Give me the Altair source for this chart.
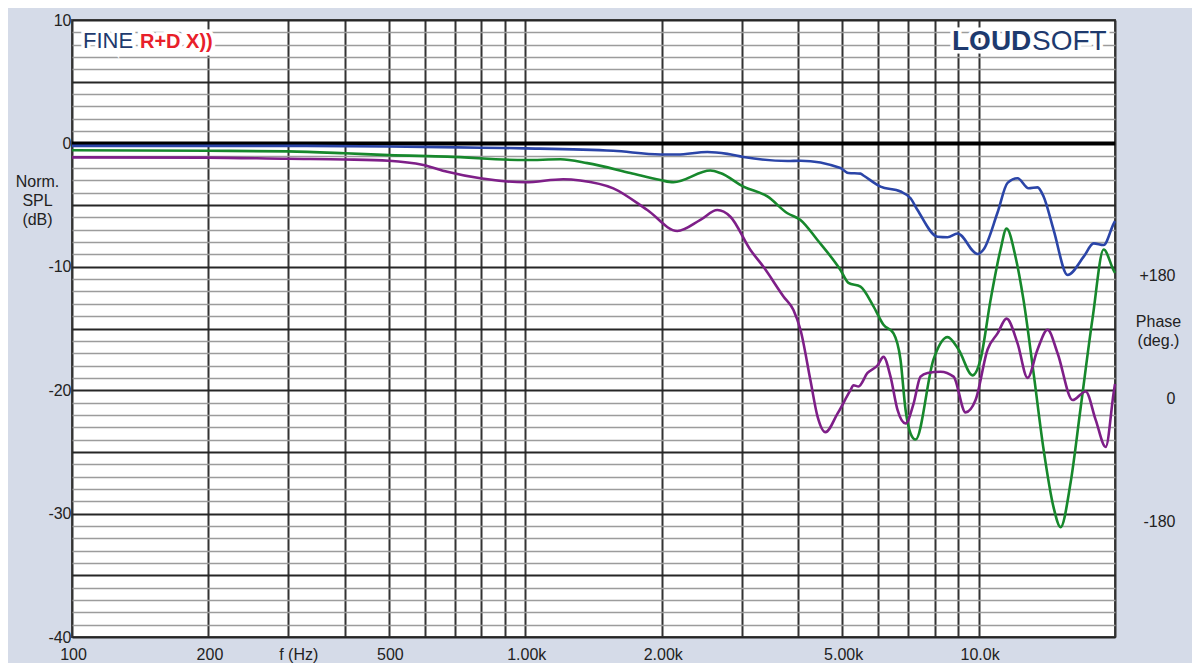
import altair as alt
import pandas as pd

# ---------------- data ----------------
freq_blue = [100, 200, 300, 500, 800, 1000, 1564, 1986, 2165, 2522, 2792, 3029, 3788, 4047,
             4959, 5164, 5489, 5573, 6076, 6728, 7079, 7335, 8119, 8543, 8988, 9950, 10256,
             11013, 11588, 12191, 12893, 13495, 13914, 14640, 15720, 17058, 17947, 18880, 19865, 20000]
spl_blue = [-0.2, -0.2, -0.2, -0.25, -0.35, -0.4, -0.6, -0.9, -0.9, -0.7, -0.85, -1.1, -1.43, -1.4,
            -2.0, -2.4, -2.45, -2.6, -3.5, -3.9, -4.45, -5.4, -7.56, -7.6, -7.3, -8.96, -8.6,
            -5.6, -3.2, -2.83, -3.64, -3.56, -4.3, -7.0, -10.66, -9.18, -8.1, -8.23, -6.5, -6.3]

freq_green = [100, 200, 300, 400, 500, 673, 1000, 1195, 1371, 1705, 1986, 2122, 2561, 2694,
              3029, 3421, 3788, 4047, 4411, 4959, 5164, 5489, 5864, 6170, 6493, 6728, 6902,
              7079, 7261, 7955, 8543, 9034, 9700, 10102, 10628, 11183, 11529, 12068, 12568,
              13223, 13914, 14640, 15170, 15960, 16800, 17857, 18880, 19865, 20000]
spl_green = [-0.55, -0.6, -0.65, -0.8, -0.95, -1.07, -1.35, -1.29, -1.6, -2.4, -2.97, -3.15, -2.2, -2.4,
             -3.5, -4.3, -5.66, -6.2, -7.83, -10.26, -11.3, -11.6, -13.2, -14.7, -15.4, -17.55, -21.6,
             -23.5, -24.0, -17.5, -15.7, -16.7, -18.8, -17.5, -12.7, -8.6, -6.9, -9.2, -12.7,
             -18.6, -24.8, -29.5, -31.1, -27.5, -21.4, -14.1, -8.6, -10.3, -10.5]

freq_purple = [100, 200, 300, 400, 500, 596, 673, 796, 1000, 1213, 1322, 1564, 1859, 2165, 2434,
               2653, 2835, 3139, 3353, 3712, 3905, 4047, 4257, 4411, 4595, 4884, 5217, 5298, 5434,
               5689, 5984, 6170, 6394, 6626, 6902, 7187, 7447, 7717, 8245, 8808, 9361, 9849,
               10469, 11013, 11529, 12191, 12828, 13495, 14200, 14940, 16125, 17232, 18130,
               19077, 19865, 20000]
spl_purple = [-1.13, -1.15, -1.25, -1.3, -1.4, -1.75, -2.3, -2.83, -3.15, -2.9, -3.0, -3.64, -5.4, -7.1, -6.2,
              -5.4, -5.94, -8.64, -10.0, -12.4, -13.5, -15.1, -19.2, -22.1, -23.4, -21.9, -20.0, -19.6, -19.7,
              -18.6, -18.0, -17.3, -18.9, -21.6, -22.7, -21.1, -18.9, -18.6, -18.5, -18.9, -21.8, -20.8,
              -16.7, -15.4, -14.2, -16.2, -19.0, -16.7, -15.1, -17.0, -20.8, -20.1, -22.4,
              -24.6, -20.2, -19.5]

series_names = ["blue", "green", "purple"]
series_colors = ["#2b45a8", "#17882c", "#7e1f88"]

x_ticks = [100, 200, 300, 400, 500, 600, 700, 800, 900,
           1000, 2000, 3000, 4000, 5000, 6000, 7000, 8000, 9000, 10000, 20000]
x_tick_labels = {100: "100", 200: "200", 300: "f (Hz)", 500: "500", 1000: "1.00k",
                 2000: "2.00k", 5000: "5.00k", 10000: "10.0k"}
y_ticks = list(range(-40, 11))
zero_level = [0]
phase_ticks = [-180, 0, 180]

# ---------------- build table ----------------
rows = []
for name, fs, ds in [("blue", freq_blue, spl_blue), ("green", freq_green, spl_green),
                     ("purple", freq_purple, spl_purple)]:
    for f, d in zip(fs, ds):
        rows.append({"series": name, "f": f, "spl": d})
df = pd.DataFrame(rows)

label_expr = " : ".join(
    [f"datum.value == {k} ? '{v}'" for k, v in x_tick_labels.items()]) + " : ''"

FONT = "Liberation Sans"
xscale = alt.Scale(type="log", domain=[100, 20000], nice=False)
yscale = alt.Scale(domain=[-40, 10], nice=False, zero=False)

x_axis = alt.Axis(values=x_ticks, labelExpr=label_expr, domain=False, ticks=False,
                  grid=True, gridColor="#333333", gridWidth=2, labelFontSize=16,
                  labelColor="#222222", labelPadding=9, labelFlush=False, labelOverlap=False,
                  labelBound=False, title=None,
                  labelOffset={"condition": {"test": "datum.value === 300", "value": 10}, "value": 1})

y_axis = alt.Axis(values=y_ticks, labelExpr="datum.value % 10 === 0 ? '' + datum.value : ''",
                  domain=False, ticks=False, grid=True,
                  gridColor={"condition": {"test": "datum.value % 5 === 0", "value": "#262626"},
                             "value": "#9c9c9c"},
                  gridWidth={"condition": {"test": "datum.value % 5 === 0", "value": 2.2},
                             "value": 1.6},
                  labelFontSize=16, labelColor="#222222", labelPadding=1, labelFlush=False,
                  labelOverlap=False, labelBound=False, labelBaseline="middle",
                  title=["Norm.", "SPL", "(dB)"], titleAngle=0, titleAlign="center",
                  titleBaseline="top", titleX=-35, titleY=153, titleFontSize=16,
                  titleFontWeight="normal", titleColor="#222222", titleLineHeight=19)

curves = alt.Chart(df).mark_line(strokeWidth=2.6, interpolate="monotone").encode(
    x=alt.X("f:Q", scale=xscale, axis=x_axis),
    y=alt.Y("spl:Q", scale=yscale, axis=y_axis),
    color=alt.Color("series:N", scale=alt.Scale(domain=series_names, range=series_colors), legend=None),
    detail="series:N",
)

zero_rule = alt.Chart(pd.DataFrame({"spl": zero_level})).mark_rule(
    color="black", strokeWidth=4).encode(y=alt.Y("spl:Q", scale=yscale, axis=y_axis))

main = alt.layer(zero_rule, curves)

phase = alt.Chart(pd.DataFrame({"phase": phase_ticks})).mark_point(opacity=0).encode(
    y=alt.Y("phase:Q", scale=alt.Scale(domain=[-349, 554], nice=False, zero=False),
            axis=alt.Axis(orient="right", values=phase_ticks,
                          labelExpr="datum.value > 0 ? '+' + datum.value : '' + datum.value",
                          domain=False, ticks=False, grid=False, labelAlign="right",
                          labelPadding=60, labelFontSize=16, labelColor="#222222",
                          labelBaseline="middle", labelFlush=False,
                          title=["Phase", "(deg.)"], titleAngle=0, titleAlign="center",
                          titleBaseline="top", titleX=43, titleY=293, titleFontSize=16,
                          titleFontWeight="normal", titleColor="#222222", titleLineHeight=19))
)

# ---------------- logos ----------------
def halo_text(text, x, y, size, weight):
    return alt.Chart(pd.DataFrame({"t": [text]})).mark_text(
        align="left", baseline="alphabetic", fontSize=size, fontWeight=weight, font=FONT,
        stroke="white", strokeWidth=7, color="white").encode(
        text="t:N", x=alt.value(x), y=alt.value(y))

def fg_text(text, x, y, color, size, weight):
    return alt.Chart(pd.DataFrame({"t": [text]})).mark_text(
        align="left", baseline="alphabetic", fontSize=size, fontWeight=weight, font=FONT,
        color=color).encode(text="t:N", x=alt.value(x), y=alt.value(y))

logo_specs = [("FINE", 11, 28, "#1e3a6e", 22, "normal"),
              ("R+D X))", 68, 28, "#e8202a", 20, "bold"),
              ("LOUD", 880, 30, "#1e3a6e", 28, "bold"),
              ("SOFT", 960, 30, "#1e3a6e", 28, "normal")]
logos = ([halo_text(t, x, y, s, w) for t, x, y, c, s, w in logo_specs]
         + [fg_text(t, x, y, c, s, w) for t, x, y, c, s, w in logo_specs])

chart = alt.layer(main, phase, *logos).resolve_scale(y="independent").properties(
    width=1043, height=617,
    autosize=alt.AutoSizeParams(type="none"),
    padding={"left": 64, "top": 12, "right": 77, "bottom": 26},
    background="#d5dbe8",
).configure(font=FONT).configure_view(fill="white", stroke="#4a4a4a", strokeWidth=2)

chart.save("out.html", embed_options={"renderer": "svg", "actions": False})
